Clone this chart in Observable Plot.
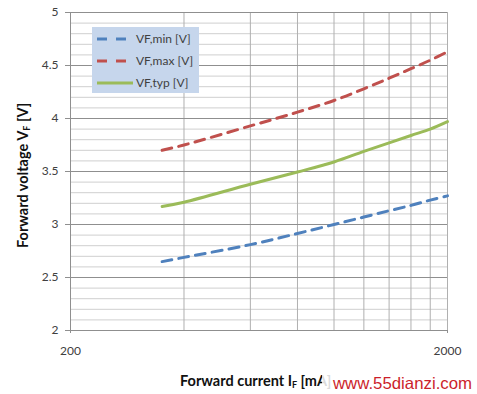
<!DOCTYPE html>
<html><head><meta charset="utf-8">
<script src="https://cdn.jsdelivr.net/npm/d3@7"></script>
<script src="https://cdn.jsdelivr.net/npm/@observablehq/plot@0.6"></script>
<style>
body{margin:0;background:#fff}
#chart{position:relative;width:477px;height:394px}
</style>
</head><body><div id="chart"></div>
<script>
const currents = [350, 400, 600, 800, 1000, 1200, 1400, 1600, 1800, 2000];
const vfMin = [2.65, 2.69, 2.81, 2.915, 3.00, 3.07, 3.13, 3.18, 3.23, 3.27];
const vfMax = [3.70, 3.75, 3.93, 4.06, 4.17, 4.28, 4.38, 4.47, 4.55, 4.63];
const vfTyp = [3.17, 3.21, 3.38, 3.495, 3.59, 3.69, 3.77, 3.84, 3.90, 3.97];
const seriesNames = ["VF,min [V]", "VF,max [V]", "VF,typ [V]"];
const seriesValues = [vfMin, vfMax, vfTyp];
const seriesColors = ["#4f81bd", "#c0504d", "#9bbb59"];
const seriesDash = ["10,7", "10,7", null];
const yTicks = [2, 2.5, 3, 3.5, 4, 4.5, 5];
const yMinor = [2.1,2.2,2.3,2.4,2.6,2.7,2.8,2.9,3.1,3.2,3.3,3.4,3.6,3.7,3.8,3.9,4.1,4.2,4.3,4.4,4.6,4.7,4.8,4.9];
const xTicks = [200, 2000];
const xGrid = [400, 600, 800, 1000, 1200, 1400, 1600, 1800, 2000];

const W = 477, H = 394, ML = 70, MR = 30, MT = 12, MB = 64;

const lineMarks = seriesNames.map((name, i) => {
  const rows = currents.map((c, j) => ({I: c, V: seriesValues[i][j]}));
  return Plot.line(rows, {x: "I", y: "V", stroke: seriesColors[i], strokeWidth: 3,
    strokeDasharray: seriesDash[i] || undefined, curve: "catmull-rom"});
});

const plot = Plot.plot({
  width: W, height: H,
  marginLeft: ML, marginRight: MR, marginTop: MT, marginBottom: MB,
  style: {fontFamily: "Lato, 'Open Sans', sans-serif", fontSize: "12px", color: "#404040", background: "#fff"},
  x: {type: "log", domain: [200, 2000]},
  y: {domain: [2, 5]},
  marks: [
    Plot.ruleY(yMinor, {stroke: "#cfcfcf", strokeWidth: 1}),
    Plot.ruleX(xGrid, {stroke: "#b0b0b0", strokeWidth: 1}),
    Plot.ruleY(yTicks, {stroke: "#8f8f8f", strokeWidth: 1}),
    Plot.ruleX([200], {stroke: "#8f8f8f", strokeWidth: 1}),
    ...lineMarks,
    Plot.axisY({ticks: yTicks, tickSize: 5, tickPadding: 7, tickFormat: d => String(d), label: null, stroke: "#8f8f8f"}),
    Plot.axisX({ticks: xTicks, tickSize: 3, tickPadding: 13, tickFormat: d => String(d), label: null, stroke: "#8f8f8f"})
  ]
});
document.getElementById("chart").appendChild(plot);

const svg = d3.select(plot);
// legend
const lg = svg.append("g").attr("text-anchor", "start");
lg.append("rect").attr("x", 92).attr("y", 27).attr("width", 107).attr("height", 66).attr("fill", "#c6d6ec");
seriesNames.forEach((name, i) => {
  const yy = 39 + i * 22;
  lg.append("line").attr("x1", 97).attr("x2", 133).attr("y1", yy).attr("y2", yy)
    .attr("stroke", seriesColors[i]).attr("stroke-width", 3)
    .attr("stroke-dasharray", seriesDash[i] ? "10,9" : null);
  lg.append("text").attr("x", 136).attr("y", yy + 4).attr("fill", "#404040")
    .attr("text-anchor", "start").style("font-size", "12px").text(name);
});

// axis titles
const xt = svg.append("text").attr("x", 180).attr("y", 386).attr("text-anchor", "start")
  .attr("fill", "#111").style("font-weight", "bold").style("font-size", "14.5px");
xt.append("tspan").text("Forward current I");
xt.append("tspan").attr("font-size", "9px").attr("dy", 2).text("F");
xt.append("tspan").attr("dy", -2).text(" [mA]");

const yt = svg.append("text").attr("transform", "translate(28,248) rotate(-90)").attr("text-anchor", "start")
  .attr("fill", "#111").style("font-weight", "bold").style("font-size", "14.5px");
yt.append("tspan").text("Forward voltage V");
yt.append("tspan").attr("font-size", "9px").attr("dy", 2).text("F");
yt.append("tspan").attr("dy", -2).text(" [V]");

// watermark
svg.append("rect").attr("x", 322).attr("y", 368).attr("width", 155).attr("height", 26).attr("fill", "#fff").attr("opacity", 0.85);
svg.append("text").attr("x", 333).attr("y", 389).attr("fill", "#cc1f2b").attr("text-anchor", "start")
  .style("font-family", "'Liberation Sans', Arial, sans-serif").style("font-size", "16.5px")
  .attr("textLength", 139).attr("lengthAdjust", "spacingAndGlyphs").text("www.55dianzi.com");
</script>
</body></html>
